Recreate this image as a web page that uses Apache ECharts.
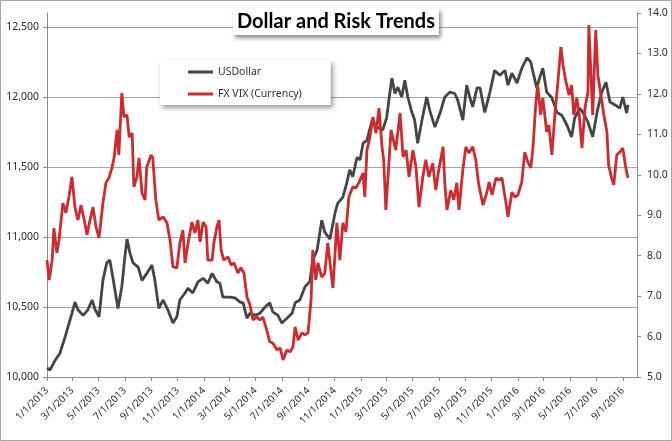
<!DOCTYPE html>
<html>
<head>
<meta charset="utf-8">
<script src="https://cdn.jsdelivr.net/npm/echarts@6/dist/echarts.min.js"></script>
<style>
html,body{margin:0;padding:0;background:#fff;}
#chart{width:672px;height:441px;}
</style>
</head>
<body>
<div id="chart"></div>
<script>
// ---- data (days since 1/1/2013) ----
const seriesNames = ['USDollar', 'FX VIX (Currency)'];
const xTickLabels = ['1/1/2013','3/1/2013','5/1/2013','7/1/2013','9/1/2013','11/1/2013',
  '1/1/2014','3/1/2014','5/1/2014','7/1/2014','9/1/2014','11/1/2014',
  '1/1/2015','3/1/2015','5/1/2015','7/1/2015','9/1/2015','11/1/2015',
  '1/1/2016','3/1/2016','5/1/2016','7/1/2016','9/1/2016'];

const usdDays = [0,7,19,30,42,49,58,65,72,84,95,105,112,121,130,139,146,153,165,174,181,186,193,200,212,221,232,244,251,260,270,281,293,302,309,321,328,339,351,363,374,384,395,402,409,425,437,449,456,465,472,484,495,507,518,525,537,546,558,570,577,588,600,611,618,628,639,646,658,670,676,688,697,704,711,721,728,735,744,756,767,781,790,797,802,809,816,825,832,839,849,855,862,872,883,890,902,914,925,937,948,955,967,976,983,990,1000,1007,1018,1030,1041,1053,1065,1072,1081,1093,1104,1116,1125,1130,1139,1146,1153,1162,1174,1186,1197,1209,1220,1227,1239,1246,1258,1269,1279,1290,1300,1309,1320,1332,1339,1348,1351];
const usdValues = [10065,10050,10120,10170,10285,10360,10455,10535,10480,10440,10480,10550,10480,10430,10690,10815,10835,10715,10490,10645,10855,10985,10885,10815,10785,10690,10740,10800,10690,10490,10550,10480,10385,10430,10550,10600,10635,10600,10680,10705,10670,10740,10680,10670,10570,10570,10565,10535,10530,10420,10455,10440,10455,10500,10530,10465,10440,10385,10420,10455,10530,10550,10645,10680,10835,10905,11120,11035,10985,11175,11240,11285,11385,11480,11430,11570,11550,11670,11690,11835,11785,11765,11855,12025,12135,12025,12070,12000,12120,12000,11885,11835,11670,11835,12000,11905,11785,11885,12000,12035,12025,11980,11835,12085,12000,11930,12065,12065,11890,12035,12190,12155,12190,12085,12170,12100,12205,12280,12250,12180,12065,12140,12205,12035,11995,11890,11870,11800,11715,11850,11920,11890,11820,11715,11890,12035,12105,11965,11945,11920,12000,11885,11945];

const vixDays = [0,5,12,16,23,28,37,44,51,58,65,72,79,88,93,100,107,114,121,130,137,144,151,156,163,167,174,179,186,191,198,202,209,214,221,228,232,242,246,253,260,270,279,286,293,302,309,316,321,328,337,344,351,356,363,370,374,384,388,395,400,405,411,421,428,435,444,451,458,465,472,479,488,495,502,511,518,525,535,542,549,558,565,572,577,584,593,600,607,614,618,625,630,639,646,653,660,665,674,681,688,695,702,711,718,725,735,739,744,751,758,765,772,779,783,788,793,800,804,811,821,828,835,842,851,858,865,874,881,888,897,904,911,921,925,930,939,946,953,958,967,974,981,990,997,1004,1014,1023,1028,1035,1044,1051,1058,1067,1072,1081,1088,1095,1104,1111,1118,1125,1130,1137,1141,1148,1153,1162,1167,1174,1181,1188,1195,1200,1207,1214,1220,1225,1232,1237,1244,1251,1258,1260,1265,1269,1276,1281,1288,1295,1302,1306,1313,1318,1325,1332,1339,1346,1351];
const vixValues = [7.89,7.40,7.89,8.68,8.07,8.39,9.30,9.06,9.45,9.95,9.20,8.88,9.25,8.81,8.51,8.88,9.20,8.71,8.44,9.30,9.80,9.92,10.17,10.42,11.11,10.49,12.02,11.43,11.48,10.93,11.03,9.70,9.95,10.42,9.55,9.38,10.19,10.49,10.42,9.38,8.88,8.96,8.81,8.39,7.72,7.70,8.31,8.63,7.82,8.31,8.83,8.56,8.88,8.34,8.83,8.71,7.89,7.89,8.31,8.71,8.88,8.14,7.89,7.97,7.77,7.82,7.57,7.70,7.57,6.98,6.78,6.41,6.48,6.41,6.48,6.16,5.87,5.84,5.67,5.72,5.42,5.67,5.62,5.74,6.24,5.91,6.09,6.04,6.09,6.90,8.14,7.40,7.82,7.47,7.57,8.31,7.65,7.20,8.81,7.89,8.81,8.59,9.45,9.70,9.67,9.80,10.04,9.45,10.61,10.93,11.43,11.03,11.65,10.69,10.37,9.13,9.95,11.11,10.93,10.61,11.53,10.44,10.61,9.95,10.61,10.19,9.20,9.95,10.37,9.95,10.29,9.62,10.12,10.69,9.80,9.13,9.62,9.38,9.80,9.13,10.12,10.69,10.54,10.69,10.37,9.75,9.25,9.57,9.82,9.50,9.92,9.87,9.92,9.33,8.96,9.57,9.45,9.50,9.82,10.56,10.32,10.17,10.66,11.80,12.22,11.48,11.90,11.06,11.23,10.49,11.48,12.29,13.16,12.71,12.29,11.97,12.22,11.48,11.90,11.55,10.66,11.65,12.05,13.70,12.47,11.48,13.58,12.47,11.97,11.48,11.06,10.24,9.92,9.75,10.49,10.56,10.66,10.17,9.92];

// ---- build ----
const START = Date.UTC(2013, 0, 1);
const DAY = 86400000;
const parseDay = s => { const p = s.split('/').map(Number); return Math.round((Date.UTC(p[2], p[0] - 1, p[1]) - START) / DAY); };
const tickDays = xTickLabels.map(parseDay);
const fmtDay = v => { const d = new Date(START + v * DAY); return (d.getUTCMonth() + 1) + '/' + d.getUTCDate() + '/' + d.getUTCFullYear(); };

const usdData = usdDays.map((d, i) => [d, usdValues[i]]);
const vixData = vixDays.map((d, i) => [d, vixValues[i]]);

const FONT = 'Noto Sans';
const chart = echarts.init(document.getElementById('chart'), null, {renderer: 'canvas'});
chart.setOption({
  animation: false,
  backgroundColor: '#fff',
  graphic: [{
    type: 'rect', z: -10, silent: true,
    shape: {x: 0.5, y: 0.5, width: 671, height: 440},
    style: {fill: 'none', stroke: '#a6a6a6', lineWidth: 1}
  }],
  title: {
    text: 'Dollar and Risk Trends',
    left: 'center', top: 8,
    padding: [4, 4, 3, 4],
    backgroundColor: '#fff',
    shadowBlur: 4, shadowColor: 'rgba(0,0,0,0.45)', shadowOffsetX: 2, shadowOffsetY: 3,
    textStyle: {fontFamily: 'Lato', fontWeight: 'bold', fontSize: 20, color: '#000'}
  },
  legend: {
    orient: 'vertical', left: 160, top: 60,
    padding: [5, 29, 4, 28],
    itemGap: 8, itemWidth: 25, itemHeight: 3, icon: 'rect',
    backgroundColor: '#fff',
    shadowBlur: 5, shadowColor: 'rgba(0,0,0,0.4)', shadowOffsetX: 2, shadowOffsetY: 3,
    textStyle: {fontFamily: FONT, fontSize: 10.5, color: '#333', lineHeight: 14},
    data: seriesNames
  },
  grid: {left: 47, right: 35, top: 13, bottom: 64},
  xAxis: {
    type: 'value',
    min: 0, max: 1372,
    splitLine: {show: false},
    axisLine: {lineStyle: {color: '#8c8c8c', width: 1}},
    axisTick: {show: true, length: 4, lineStyle: {color: '#8c8c8c'}, customValues: tickDays},
    axisLabel: {
      customValues: tickDays,
      rotate: 45, margin: 12,
      fontFamily: FONT, fontSize: 10, color: '#2b2b2b',
      formatter: v => fmtDay(v)
    }
  },
  yAxis: [{
    type: 'value', min: 10000, max: 12600, interval: 500,
    axisLine: {show: true, lineStyle: {color: '#8c8c8c'}},
    axisTick: {show: true, length: 4, lineStyle: {color: '#8c8c8c'}},
    axisLabel: {
      showMaxLabel: false, margin: 8,
      fontFamily: FONT, fontSize: 10.5, color: '#2b2b2b',
      formatter: v => v.toLocaleString('en-US')
    },
    splitLine: {show: true, showMaxLine: false, showMinLine: false, lineStyle: {color: '#a6a6a6', width: 1}}
  }, {
    type: 'value', min: 5, max: 14, interval: 1, position: 'right',
    axisLine: {show: true, lineStyle: {color: '#8c8c8c'}},
    axisTick: {show: true, length: 4, lineStyle: {color: '#8c8c8c'}},
    axisLabel: {
      margin: 10,
      fontFamily: FONT, fontSize: 10.5, color: '#2b2b2b',
      formatter: v => v.toFixed(1)
    },
    splitLine: {show: false}
  }],
  series: [{
    name: seriesNames[0], type: 'line', yAxisIndex: 0,
    data: usdData, showSymbol: false, symbol: 'none',
    lineStyle: {color: '#454545', width: 2.8}, itemStyle: {color: '#454545'}
  }, {
    name: seriesNames[1], type: 'line', yAxisIndex: 1,
    data: vixData, showSymbol: false, symbol: 'none',
    lineStyle: {color: '#cf2a2e', width: 2.8}, itemStyle: {color: '#cf2a2e'}
  }]
});
</script>
</body>
</html>
